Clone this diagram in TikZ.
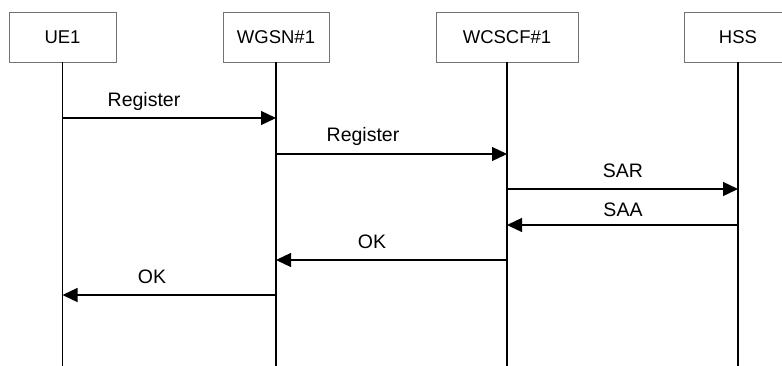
\documentclass[tikz,border=0pt]{standalone}
\usepackage{fontspec}
\setmainfont{Liberation Sans}
\usetikzlibrary{arrows.meta}
\begin{document}
\begin{tikzpicture}[x=1pt,y=-1pt,
  entity/.style={draw=black!55,line width=0.8pt,fill=white,minimum height=50pt,
    inner sep=0pt,font=\fontsize{18.5}{22}\selectfont},
  lifeline/.style={line width=1.3pt},
  msg/.style={line width=1.3pt,-{Triangle[length=15pt,width=14pt]}},
  lbl/.style={font=\fontsize{19.5}{23}\selectfont,inner sep=0pt}]
\useasboundingbox (0,0) rectangle (782,365);
\fill[white] (0,0) rectangle (782,365);
% participants
\node[entity,minimum width=107pt] (ue)  at (62.5,37) {UE1};
\node[entity,minimum width=106pt] (wg)  at (276,37)  {WGSN\#1};
\node[entity,minimum width=142pt] (cs)  at (507,37)  {WCSCF\#1};
\node[entity,minimum width=108pt] (hss) at (738,37)  {HSS};
% lifelines
\foreach \p in {ue,wg,cs,hss}{
  \coordinate (\p-end) at (\p.south |- 0,366);
  \draw[lifeline] (\p.south) -- (\p-end);
}
% messages
\draw[msg] (ue.south |- 0,118) -- (wg.south |- 0,118);
\node[lbl] (m1) at (144,101) {Register};
\draw[msg] (wg.south |- 0,154) -- (cs.south |- 0,154);
\node[lbl] (m2) at (363,136) {Register};
\draw[msg] (cs.south |- 0,189) -- (hss.south |- 0,189);
\node[lbl] (m3) at (623,171) {SAR};
\draw[msg] (hss.south |- 0,225) -- (cs.south |- 0,225);
\node[lbl] (m4) at (623,210) {SAA};
\draw[msg] (cs.south |- 0,260) -- (wg.south |- 0,260);
\node[lbl] (m5) at (372,242) {OK};
\draw[msg] (wg.south |- 0,295) -- (ue.south |- 0,295);
\node[lbl] (m6) at (152,277) {OK};
\end{tikzpicture}
\end{document}
